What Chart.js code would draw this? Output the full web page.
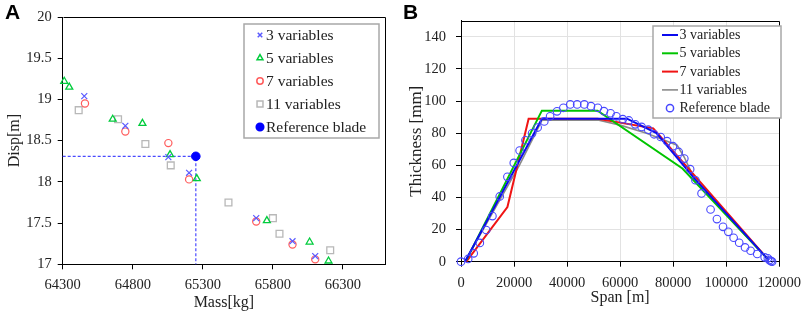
<!DOCTYPE html>
<html>
<head>
<meta charset="utf-8">
<script src="https://cdn.jsdelivr.net/npm/chart.js@4.4.0/dist/chart.umd.min.js"></script>
<style>
  html, body { margin: 0; padding: 0; background: #fff; }
  #wrap { position: relative; width: 809px; height: 313px; overflow: hidden; }
  #chartA { position: absolute; left: 0; top: 0; }
  #chartB { position: absolute; left: 405px; top: 0; }
  .tag { position: absolute; font: bold 21px "Liberation Sans", Arial, sans-serif; color: #000; }
</style>
</head>
<body>
<div id="wrap">
  <canvas id="chartA" width="405" height="313"></canvas>
  <canvas id="chartB" width="404" height="313"></canvas>
  <div class="tag" style="left:5px;top:0px">A</div>
  <div class="tag" style="left:403px;top:0px">B</div>
</div>
<script>
// ---- panel A : mass vs tip displacement ----
var massTicks = [64300, 64800, 65300, 65800, 66300];
var dispTicks = [17, 17.5, 18, 18.5, 19, 19.5, 20];

var mass3 = [64454, 64747, 65054, 65202, 65681, 65940, 66102];
var disp3 = [19.04, 18.68, 18.30, 18.11, 17.56, 17.28, 17.10];
var mass5 = [64311, 64347, 64657, 64869, 65066, 65257, 65757, 66062, 66197];
var disp5 = [19.22, 19.15, 18.76, 18.71, 18.33, 18.04, 17.53, 17.27, 17.04];
var mass7 = [64459, 64747, 65054, 65202, 65681, 65940, 66102];
var disp7 = [18.95, 18.61, 18.47, 18.03, 17.52, 17.24, 17.06];
var mass11 = [64414, 64695, 64890, 65071, 65483, 65800, 65847, 66209];
var disp11 = [18.87, 18.76, 18.46, 18.20, 17.75, 17.56, 17.37, 17.17];
var massRef = 65250;
var dispRef = 18.31;

// ---- panel B : thickness along span ----
var spanTicks = [0, 20000, 40000, 60000, 80000, 100000, 120000];
var thickTicks = [0, 20, 40, 60, 80, 100, 120, 140];

var span3 = [1500, 30500, 62600, 73700, 87900, 116000];
var thick3 = [0, 89, 89, 80, 52, 1];
var span5 = [2000, 30500, 51500, 83500, 116000];
var thick5 = [1, 94, 94, 58, 1];
var span7 = [2000, 17500, 25500, 51500, 72500, 116000];
var thick7 = [0, 34, 89, 89, 83, 1];
var span11 = [1500, 22000, 27500, 30500, 52000, 60000, 70000, 81500, 84200, 87900, 116000];
var thick11 = [0, 60, 78, 88, 88, 85, 80, 72.5, 65, 52, 1];
var spanRef = [0, 2700, 4800, 7100, 9500, 11850, 14600, 17500, 19900, 22100, 24300, 26800, 28900, 31400,
  33600, 36200, 38600, 41200, 43800, 46500, 49000, 51600, 53900, 56400, 58600, 61000, 63300, 65700, 68100,
  70600, 72800, 75300, 77700, 79900, 82100, 84200, 86400, 88400, 90700, 94100, 96500, 98800, 100800,
  102800, 104900, 107100, 109200, 111700, 114500, 115700, 116300, 116900, 117300];
var thickRef = [0, 1.7, 5.2, 11.7, 19.7, 28.4, 40.6, 52.8, 61.5, 69.2, 75.6, 79.9, 83.5, 87.3,
  90.5, 93.6, 95.8, 97.9, 97.9, 97.9, 96.8, 95.8, 93.7, 92.4, 90.5, 88.7, 87.9, 85.5, 83.9,
  82.2, 79.3, 77.6, 75, 71.9, 68.3, 64.2, 57.6, 50.7, 42.5, 32.5, 26.5, 21.7, 18.6,
  14.9, 11.8, 8.9, 6.8, 4.8, 2.7, 2.1, 1, 0.4, 0];

var serif = '"Liberation Serif", "Times New Roman", serif';
var textColor = '#222';

function pts(xs, ys) {
  return xs.map(function(x, i) { return { x: x, y: ys[i] }; });
}
function setTicks(list) {
  return function(scale) { scale.ticks = list.map(function(v) { return { value: v }; }); };
}
function fixWidth(w) { return function(scale) { scale.width = w; }; }
function fixHeight(h) { return function(scale) { scale.height = h; }; }

// frame on top/right + legend box in the plot
var framePlugin = {
  id: 'panelFrame',
  afterDraw: function(chart, args, opts) {
    var ctx = chart.ctx;
    var a = chart.chartArea;
    ctx.save();
    ctx.strokeStyle = '#000';
    ctx.lineWidth = 1;
    ctx.beginPath();
    ctx.moveTo(Math.round(a.left) + 0.5, Math.round(a.top) + 0.5);
    ctx.lineTo(Math.round(a.right) + 0.5, Math.round(a.top) + 0.5);
    ctx.lineTo(Math.round(a.right) + 0.5, Math.round(a.bottom) + 0.5);
    ctx.stroke();

    // legend
    var L = opts;
    ctx.fillStyle = '#fff';
    ctx.fillRect(L.x, L.y, L.w, L.h);
    ctx.strokeStyle = '#a8a8a8';
    ctx.lineWidth = 1.5;
    ctx.strokeRect(L.x, L.y, L.w, L.h);
    ctx.font = L.size + 'px ' + serif;
    ctx.textBaseline = 'middle';
    var row = 0;
    (L.order ? L.order(chart.data.datasets) : chart.data.datasets).forEach(function(ds) {
      if (ds.noLegend) return;
      var cy = L.y + L.first + row * L.step;
      row++;
      ctx.save();
      if (L.lines && ds.showLine) {
        ctx.strokeStyle = ds.borderColor;
        ctx.lineWidth = ds.borderWidth;
        ctx.beginPath();
        ctx.moveTo(L.lineX0, cy);
        ctx.lineTo(L.lineX1, cy);
        ctx.stroke();
      } else {
        ctx.strokeStyle = ds.borderColor;
        ctx.fillStyle = ds.backgroundColor;
        Chart.helpers.drawPoint(ctx, {
          pointStyle: ds.pointStyle,
          radius: ds.legendRadius || ds.pointRadius,
          rotation: 0,
          borderWidth: ds.pointBorderWidth || 1
        }, L.markX, cy);
      }
      ctx.restore();
      ctx.fillStyle = textColor;
      ctx.fillText(ds.label, L.textX, cy + 0.5);
    });
    ctx.restore();
  }
};

var seriesA = [
  { label: '3 variables', data: pts(mass3, disp3), pointStyle: 'crossRot', pointRadius: 4.2, legendRadius: 3.2,
    borderColor: '#5a5aff', backgroundColor: 'rgba(0,0,0,0)', pointBorderWidth: 1.2 },
  { label: '5 variables', data: pts(mass5, disp5), pointStyle: 'triangle', pointRadius: 4, legendRadius: 3.4,
    borderColor: '#00cc3c', backgroundColor: 'rgba(0,0,0,0)', pointBorderWidth: 1.3 },
  { label: '7 variables', data: pts(mass7, disp7), pointStyle: 'circle', pointRadius: 3.6, legendRadius: 3.2,
    borderColor: '#ff5c5c', backgroundColor: 'rgba(0,0,0,0)', pointBorderWidth: 1.2 },
  { label: '11 variables', data: pts(mass11, disp11), pointStyle: 'rect', pointRadius: 4.8, legendRadius: 4.2,
    borderColor: '#b8b8b8', backgroundColor: 'rgba(0,0,0,0)', pointBorderWidth: 1.3 },
  { label: 'Reference blade', data: [{ x: massRef, y: dispRef }], pointStyle: 'circle', pointRadius: 4.3, legendRadius: 3.8,
    borderColor: '#0000ff', backgroundColor: '#0000ff', pointBorderWidth: 1 },
  { label: 'guide', noLegend: true, showLine: true, pointRadius: 0, borderColor: '#4a4aff', borderWidth: 1.2,
    borderDash: [3, 2], data: [{ x: massTicks[0], y: dispRef }, { x: massRef, y: dispRef }, { x: massRef, y: dispTicks[0] }] }
];
seriesA.forEach(function(ds) {
  ds.pointBorderColor = ds.borderColor;
  ds.pointBackgroundColor = ds.backgroundColor;
  ds.pointHoverRadius = ds.pointRadius;
  ds.clip = false;
});

new Chart(document.getElementById('chartA'), {
  type: 'scatter',
  data: { datasets: seriesA },
  options: {
    responsive: false,
    animation: false,
    layout: { padding: { top: 17, right: 20, left: 0, bottom: 0 } },
    plugins: {
      legend: { display: false },
      tooltip: { enabled: false },
      panelFrame: { x: 244, y: 24, w: 135, h: 114, first: 11, step: 23, markX: 260, textX: 266, size: 15.5, lines: false }
    },
    scales: {
      x: {
        type: 'linear', min: 64300, max: 66600,
        afterBuildTicks: setTicks(massTicks),
        afterFit: fixHeight(48.7),
        grid: { drawOnChartArea: false, tickLength: 5, tickColor: '#000' },
        border: { color: '#000', width: 1 },
        ticks: { color: textColor, font: { family: serif, size: 14.5 }, padding: 7, maxRotation: 0,
          callback: function(v) { return String(v); } },
        title: { display: true, text: 'Mass[kg]', color: textColor, font: { family: serif, size: 16 },
          padding: { top: 0, bottom: 1 } }
      },
      y: {
        type: 'linear', min: 17, max: 20,
        afterBuildTicks: setTicks(dispTicks),
        afterFit: fixWidth(62.7),
        grid: { drawOnChartArea: false, tickLength: 5, tickColor: '#000' },
        border: { color: '#000', width: 1 },
        ticks: { color: textColor, font: { family: serif, size: 14.5 }, padding: 6,
          callback: function(v) { return String(v); } },
        title: { display: true, text: 'Disp[m]', color: textColor, font: { family: serif, size: 16 },
          padding: { top: 5, bottom: 0 } }
      }
    }
  },
  plugins: [framePlugin]
});

var seriesB = [
  { label: '3 variables', data: pts(span3, thick3), borderColor: '#0a0aee', borderWidth: 2 },
  { label: '5 variables', data: pts(span5, thick5), borderColor: '#00c400', borderWidth: 2 },
  { label: '7 variables', data: pts(span7, thick7), borderColor: '#f01414', borderWidth: 2 },
  { label: '11 variables', data: pts(span11, thick11), borderColor: '#8a8a8a', borderWidth: 1.6 }
];
seriesB.forEach(function(ds) {
  ds.showLine = true;
  ds.pointRadius = 0;
  ds.pointHoverRadius = 0;
  ds.tension = 0;
  ds.clip = false;
});
// reference blade first so it is drawn on top of the lines
seriesB.unshift({
  label: 'Reference blade', data: pts(spanRef, thickRef), showLine: false, pointStyle: 'circle',
  pointRadius: 3.8, legendRadius: 3.6, pointBorderWidth: 1.1, borderColor: '#4848ff',
  backgroundColor: 'rgba(0,0,0,0)', pointBorderColor: '#4848ff', pointBackgroundColor: 'rgba(0,0,0,0)',
  clip: false
});

new Chart(document.getElementById('chartB'), {
  type: 'scatter',
  data: { datasets: seriesB },
  options: {
    responsive: false,
    animation: false,
    layout: { padding: { top: 20.7, right: 24, left: 0, bottom: 0 } },
    plugins: {
      legend: { display: false },
      tooltip: { enabled: false },
      panelFrame: { x: 248, y: 26, w: 128, h: 92, first: 9, step: 18.3, lineX0: 257, lineX1: 273,
        markX: 265, textX: 274.5, size: 14, lines: true,
        // legend rows: lines first, then the reference blade
        order: function(all) { return all.slice(1).concat([all[0]]); } }
    },
    scales: {
      x: {
        type: 'linear', min: 0, max: 120000,
        afterBuildTicks: setTicks(spanTicks),
        afterFit: fixHeight(51.3),
        grid: { color: '#e2e2e2', tickLength: 5, tickColor: '#000' },
        border: { color: '#000', width: 1 },
        ticks: { color: textColor, font: { family: serif, size: 14.5 }, padding: 8, maxRotation: 0,
          callback: function(v) { return String(v); } },
        title: { display: true, text: 'Span [m]', color: textColor, font: { family: serif, size: 16 },
          padding: { top: 0, bottom: 6 } }
      },
      y: {
        type: 'linear', min: 0, max: 150,
        afterBuildTicks: setTicks(thickTicks),
        afterFit: fixWidth(56),
        grid: { color: '#e2e2e2', tickLength: 5, tickColor: '#000' },
        border: { color: '#000', width: 1 },
        ticks: { color: textColor, font: { family: serif, size: 14.5 }, padding: 10,
          callback: function(v) { return String(v); } },
        title: { display: true, text: 'Thickness [mm]', color: textColor, font: { family: serif, size: 17 },
          padding: { top: 1, bottom: 0 } }
      }
    }
  },
  plugins: [framePlugin]
});
</script>
</body>
</html>
